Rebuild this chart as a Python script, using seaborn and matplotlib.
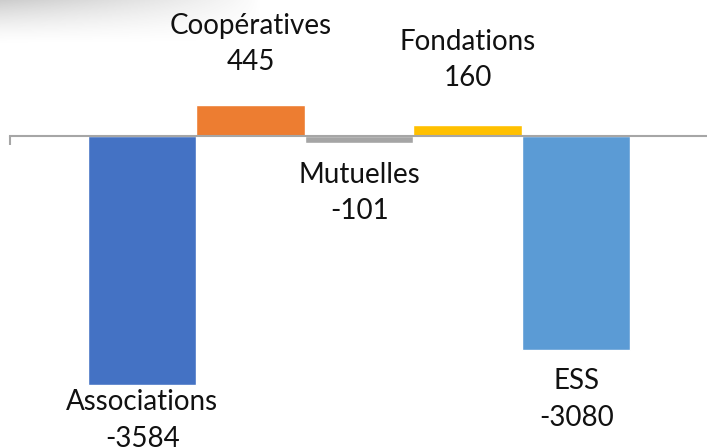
import numpy as np
import matplotlib.pyplot as plt
import seaborn as sns

categories = ['Associations', 'Coopératives', 'Mutuelles', 'Fondations', 'ESS']
values = [-3584, 445, -101, 160, -3080]
colors = ['#4472C4', '#ED7D31', '#A5A5A5', '#FFC000', '#5B9BD5']
# label offset from bar end, in pixels
label_offsets = [-36, 61, -50, 65, -50]

sns.set_style('white')
plt.rcParams['font.family'] = ['Lato', 'DejaVu Sans']

fig = plt.figure(figsize=(7.07, 4.48), dpi=100)

# soft grey shadow in the top-left corner
bg = fig.add_axes([0, 0, 1, 1])
h, w = 448, 707
yy, xx = np.mgrid[0:h, 0:w]
alpha = np.clip(1 - yy / 45, 0, 1) ** 1.5 * np.clip(1 - xx / 260, 0, 1) ** 0.8 * 0.45
img = np.zeros((h, w, 4))
img[..., :3] = 0.55
img[..., 3] = alpha
bg.imshow(img, aspect='auto', extent=(0, 1, 0, 1))
bg.set_axis_off()

ax = fig.add_axes([0, 0, 1, 1])
ax.patch.set_alpha(0)
sns.barplot(x=categories, y=values, hue=categories, palette=colors,
            width=1.0, saturation=1, legend=False, ax=ax)

ax.set_xlim(-1.31, 5.205)
ax.set_ylim(-4496, 1960)

for s in ['top', 'right', 'left']:
    ax.spines[s].set_visible(False)
ax.spines['bottom'].set_position(('data', 0))
ax.spines['bottom'].set_bounds(-1.221, 5.205)
ax.spines['bottom'].set_color('#a6a6a6')
ax.spines['bottom'].set_linewidth(1.5)
ax.spines['bottom'].set_zorder(5)
ax.set_xticks([-1.221])
ax.set_xticklabels([''])
ax.tick_params(axis='x', direction='out', length=6.5, width=1.5, color='#a6a6a6', bottom=True)
ax.set_yticks([])
ax.set_xlabel('')
ax.set_ylabel('')

for i, (cat, v) in enumerate(zip(categories, values)):
    ax.annotate(f'{cat}\n{v}', xy=(i, v), xytext=(0, label_offsets[i]),
                textcoords='offset pixels', ha='center', va='center',
                fontsize=20, linespacing=1.5, color='#111111')

plt.savefig('out.png', dpi=100)
